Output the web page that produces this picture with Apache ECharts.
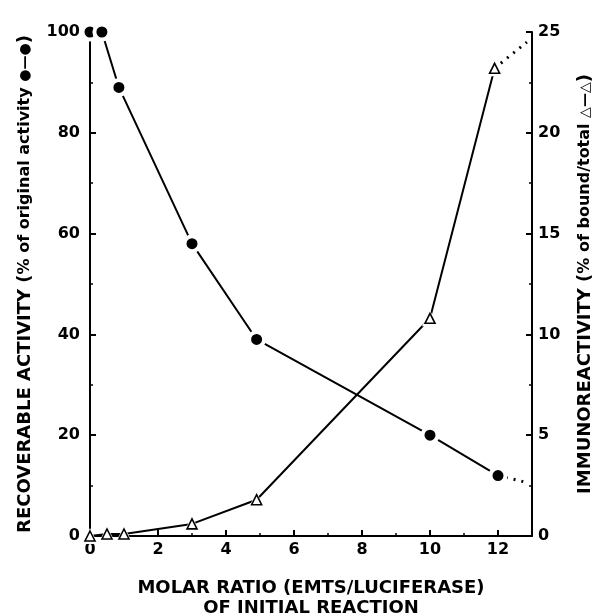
<!DOCTYPE html>
<html>
<head>
<meta charset="utf-8">
<script src="https://cdn.jsdelivr.net/npm/echarts@6/dist/echarts.min.js"></script>
<style>
  html, body { margin: 0; padding: 0; background: #fff; }
  #chart { width: 593px; height: 616px; }
</style>
</head>
<body>
<div id="chart"></div>
<script>
// Recoverable activity (% of original), filled circles, left axis
const activityRatio = [0, 0.35, 0.85, 3, 4.9, 10, 12];
const activity = [100, 100, 89, 58, 39, 20, 12];
const activityTailRatio = [12, 12.8];
const activityTail = [12, 10.7];

// Immunoreactivity (% of bound/total), open triangles, right axis
const immunoRatio = [0, 0.5, 1, 3, 4.9, 10, 11.9];
const immuno = [0, 0.1, 0.1, 0.6, 1.8, 10.8, 23.2];
const immunoTailRatio = [11.9, 12.85];
const immunoTail = [23.2, 24.5];

// Axis ranges and ticks
const xRange = [0, 13], xStep = 2;
const leftRange = [0, 100], leftStep = 20;
const rightRange = [0, 25], rightStep = 5;

const zip = (xs, ys) => xs.map((x, i) => [x, ys[i]]);

const FONT = 'DejaVu Sans';
const ink = '#000';

const axisCommon = {
  axisLine: { show: true, onZero: false, lineStyle: { color: ink, width: 2 } },
  axisTick: { show: true, inside: true, length: 6, lineStyle: { color: ink, width: 2 } },
  minorTick: { show: true, splitNumber: 2, length: 3, lineStyle: { color: ink, width: 1.5 } },
  splitLine: { show: false },
  axisLabel: { color: ink, fontFamily: FONT, fontWeight: 'bold', fontSize: 16 }
};

const titleRich = {
  a: { fontFamily: FONT, fontWeight: 'bold', fontSize: 18, color: ink },
  b: { fontFamily: FONT, fontWeight: 'bold', fontSize: 16, color: ink },
  k: { fontFamily: FONT, fontWeight: 'bold', fontSize: 14, color: ink }
};

const chart = echarts.init(document.getElementById('chart'), null, { renderer: 'canvas' });

chart.setOption({
  animation: false,
  backgroundColor: '#fff',
  grid: { left: 90, right: 61, top: 32, bottom: 80, containLabel: false, outerBoundsMode: 'none' },
  xAxis: Object.assign({}, axisCommon, {
    type: 'value',
    min: xRange[0], max: xRange[1], interval: xStep,
    axisLabel: Object.assign({}, axisCommon.axisLabel, { margin: 6, showMaxLabel: false }),
    name: 'MOLAR RATIO (EMTS/LUCIFERASE)\nOF INITIAL REACTION',
    nameLocation: 'middle',
    nameGap: 42,
    nameTextStyle: { color: ink, fontFamily: FONT, fontWeight: 'bold', fontSize: 18, lineHeight: 20, verticalAlign: 'top' }
  }),
  yAxis: [
    Object.assign({}, axisCommon, {
      type: 'value', position: 'left',
      min: leftRange[0], max: leftRange[1], interval: leftStep,
      axisLabel: Object.assign({}, axisCommon.axisLabel, { margin: 10 }),
      name: '{a|RECOVERABLE ACTIVITY (}{b|% of original activity }{k|●—●}{a|)}',
      nameLocation: 'middle', nameRotate: 90, nameGap: 56,
      nameTextStyle: { color: ink, rich: titleRich }
    }),
    Object.assign({}, axisCommon, {
      type: 'value', position: 'right',
      min: rightRange[0], max: rightRange[1], interval: rightStep,
      axisLabel: Object.assign({}, axisCommon.axisLabel, { margin: 6 }),
      name: '{a|IMMUNOREACTIVITY (}{b|% of bound/total }{k|△—△}{a|)}',
      nameLocation: 'middle', nameRotate: 90, nameGap: 44,
      nameTextStyle: { color: ink, rich: titleRich }
    })
  ],
  series: [
    {
      // connecting line for the triangles, with a white halo around each point
      type: 'line', yAxisIndex: 1, clip: false,
      data: zip(immunoRatio, immuno),
      symbol: 'triangle', symbolSize: 16,
      itemStyle: { color: '#fff', borderColor: '#fff', borderWidth: 0 },
      lineStyle: { color: ink, width: 2 },
      z: 2
    },
    {
      type: 'line', yAxisIndex: 1, clip: false,
      data: zip(immunoTailRatio, immunoTail),
      showSymbol: false, symbol: 'none',
      lineStyle: { color: ink, width: 3, type: [2, 6] },
      z: 2
    },
    {
      type: 'scatter', yAxisIndex: 1, clip: false,
      data: zip(immunoRatio, immuno),
      symbol: 'triangle', symbolSize: 10,
      itemStyle: { color: '#fff', borderColor: ink, borderWidth: 1.6, opacity: 1 },
      z: 3
    },
    {
      type: 'line', yAxisIndex: 0, clip: false,
      data: zip(activityRatio, activity),
      symbol: 'circle', symbolSize: 15,
      itemStyle: { color: ink, borderColor: '#fff', borderWidth: 4, opacity: 1 },
      lineStyle: { color: ink, width: 2 },
      z: 4
    },
    {
      type: 'line', yAxisIndex: 0, clip: false,
      data: zip(activityTailRatio, activityTail),
      showSymbol: false, symbol: 'none',
      lineStyle: { color: ink, width: 3, type: [2, 6] },
      z: 2
    }
  ]
});
</script>
</body>
</html>
